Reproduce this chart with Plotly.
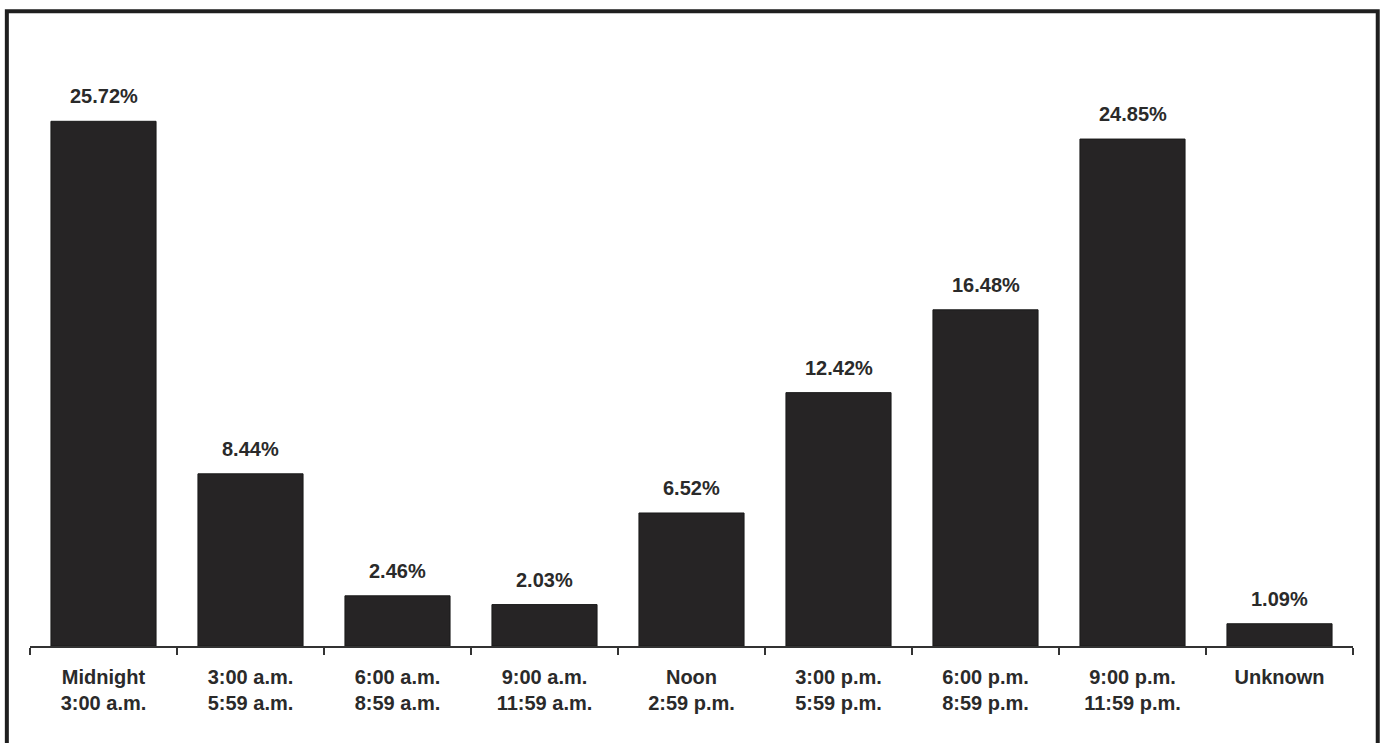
import plotly.graph_objects as go

categories = [
    "Midnight<br>3:00 a.m.",
    "3:00 a.m.<br>5:59 a.m.",
    "6:00 a.m.<br>8:59 a.m.",
    "9:00 a.m.<br>11:59 a.m.",
    "Noon<br>2:59 p.m.",
    "3:00 p.m.<br>5:59 p.m.",
    "6:00 p.m.<br>8:59 p.m.",
    "9:00 p.m.<br>11:59 p.m.",
    "Unknown",
]
values = [25.72, 8.44, 2.46, 2.03, 6.52, 12.42, 16.48, 24.85, 1.09]

dark = "#262425"
text_color = "#2a2a2a"
font_family = "Liberation Sans, Arial, Helvetica, sans-serif"

fig = go.Figure(
    go.Bar(
        x=categories,
        y=values,
        marker=dict(color=dark, line=dict(color="#1a1a1a", width=1)),
        width=0.715,
    )
)

annotations = [
    dict(
        x=c,
        y=v,
        xref="x",
        yref="y",
        text=f"{v:.2f}%",
        showarrow=False,
        yanchor="bottom",
        yshift=12,
        font=dict(family=font_family, size=20, color=text_color, weight="bold"),
    )
    for c, v in zip(categories, values)
]

fig.update_layout(
    width=1385,
    height=743,
    margin=dict(l=30, r=32, t=34, b=97),
    paper_bgcolor="white",
    plot_bgcolor="white",
    showlegend=False,
    annotations=annotations,
    xaxis=dict(
        showline=True,
        linecolor="#333333",
        linewidth=1.5,
        ticks="outside",
        tickson="boundaries",
        ticklen=7,
        tickcolor="#333333",
        tickwidth=1.5,
        ticklabelstandoff=12,
        tickfont=dict(family=font_family, size=20, color=text_color, weight="bold"),
        showgrid=False,
        zeroline=False,
        range=[-0.5, 8.5],
    ),
    yaxis=dict(
        range=[0, 30],
        showticklabels=False,
        showgrid=False,
        zeroline=False,
        showline=False,
        ticks="",
    ),
    shapes=[
        dict(
            type="rect",
            xref="paper",
            yref="paper",
            x0=-0.0175,
            x1=1.0187,
            y0=-0.3,
            y1=1.037,
            line=dict(color="#1f1f1f", width=4),
            fillcolor="rgba(0,0,0,0)",
            layer="below",
        )
    ],
)

fig.write_html(
    "out.html",
    config={"displayModeBar": False},
    post_script="document.body.style.margin='0';document.body.style.overflow='hidden';",
)
